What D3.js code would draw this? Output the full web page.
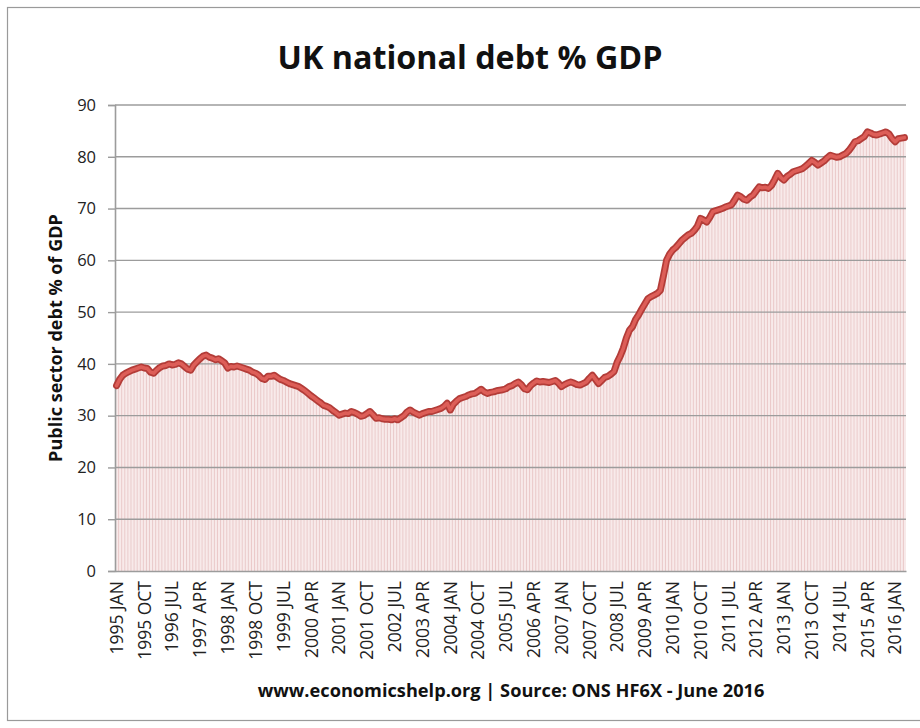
<!DOCTYPE html>
<html><head><meta charset="utf-8">
<script src="https://cdn.jsdelivr.net/npm/d3@7"></script>
<style>body{margin:0;background:#fff}svg{display:block}</style>
</head><body>
<script>
// ---- data ----
const monthNames = ["JAN","FEB","MAR","APR","MAY","JUN","JUL","AUG","SEP","OCT","NOV","DEC"];
const startYear = 1995;
// Public sector net debt % GDP, monthly from 1995 JAN to 2016 APR
const debt = [
 35.8,37.0,37.8,38.2,38.5,38.8,39.0,39.2,39.4,39.2,39.1,38.4, // 1995
 38.2,38.8,39.3,39.6,39.7,40.0,39.8,39.9,40.2,40.0,39.5,39.0, // 1996
 38.8,39.8,40.4,41.0,41.5,41.7,41.3,41.1,40.8,41.0,40.6,40.2, // 1997
 39.2,39.5,39.4,39.6,39.4,39.2,39.0,38.8,38.4,38.2,37.8,37.2, // 1998
 37.0,37.6,37.6,37.8,37.4,37.0,36.8,36.5,36.2,36.0,35.8,35.6, // 1999
 35.2,34.8,34.3,33.8,33.4,32.9,32.5,32.0,31.8,31.5,31.0,30.6, // 2000
 30.1,30.3,30.5,30.4,30.8,30.6,30.3,29.9,30.0,30.4,30.8,30.2, // 2001
 29.5,29.6,29.4,29.3,29.3,29.2,29.4,29.2,29.6,30.0,30.7,31.1, // 2002
 30.7,30.4,30.1,30.4,30.6,30.8,30.8,31.0,31.2,31.4,31.8,32.4, // 2003
 31.1,32.2,32.8,33.3,33.5,33.7,34.0,34.2,34.3,34.7,35.1,34.6, // 2004
 34.3,34.5,34.6,34.8,34.9,35.0,35.2,35.6,35.8,36.2,36.5,36.0, // 2005
 35.2,35.0,35.8,36.3,36.7,36.5,36.6,36.5,36.4,36.6,36.8,36.3, // 2006
 35.6,36.0,36.3,36.5,36.3,36.0,35.9,36.2,36.5,37.2,37.8,37.0, // 2007
 36.2,36.8,37.4,37.6,38.0,38.5,40.3,41.5,43.0,45.0,46.5,47.2, // 2008
 48.6,49.5,50.6,51.6,52.6,53.0,53.3,53.6,54.2,57.0,60.0,61.2, // 2009
 62.0,62.5,63.2,63.9,64.4,64.9,65.2,65.8,66.6,68.1,67.8,67.4, // 2010
 68.3,69.4,69.6,69.8,70.0,70.3,70.5,70.7,71.6,72.6,72.3,71.8, // 2011
 71.6,72.2,72.6,73.4,74.2,74.0,74.1,73.9,74.5,75.6,76.8,76.0, // 2012
 75.5,76.2,76.6,77.1,77.3,77.5,77.7,78.2,78.7,79.3,78.9,78.4, // 2013
 78.8,79.2,79.8,80.3,80.1,79.9,80.0,80.3,80.6,81.2,82.0,82.9, // 2014
 83.1,83.5,83.9,84.8,84.6,84.3,84.2,84.4,84.6,84.8,84.4,83.5, // 2015
 82.9,83.5,83.6,83.7                                          // 2016
];
const yTicks = [0,10,20,30,40,50,60,70,80,90];
const xTickLabels = ["1995 JAN","1995 OCT","1996 JUL","1997 APR","1998 JAN","1998 OCT","1999 JUL",
 "2000 APR","2001 JAN","2001 OCT","2002 JUL","2003 APR","2004 JAN","2004 OCT","2005 JUL","2006 APR",
 "2007 JAN","2007 OCT","2008 JUL","2009 APR","2010 JAN","2010 OCT","2011 JUL","2012 APR","2013 JAN",
 "2013 OCT","2014 JUL","2015 APR","2016 JAN"];
const titleText = "UK national debt % GDP";
const yTitleText = "Public sector debt % of GDP";
const footerText = "www.economicshelp.org | Source: ONS HF6X - June 2016";

const categories = debt.map((d,i)=> (startYear + Math.floor(i/12)) + " " + monthNames[i%12]);

// ---- layout ----
const W=920, H=728;
const L=115, R=906, T=105, B=571;
const font = "'Open Sans', Lato, sans-serif";

const svg = d3.select("body").append("svg").attr("width",W).attr("height",H);
svg.append("rect").attr("x",0).attr("y",0).attr("width",W).attr("height",H).attr("fill","#fff");
// outer frame
svg.append("rect").attr("x",7.5).attr("y",7.5).attr("width",W).attr("height",713)
  .attr("fill","none").attr("stroke","#9a9a9a").attr("stroke-width",1.2);

const x = d3.scaleBand().domain(categories).range([L,R]).padding(0);
const y = d3.scaleLinear().domain([0,90]).range([B,T]);
const bw = x.bandwidth();

// area-like columns
const cols = svg.append("g");
cols.selectAll("rect").data(debt).join("rect")
  .attr("x",(d,i)=>x(categories[i]))
  .attr("y",d=>y(d))
  .attr("width",bw)
  .attr("height",d=>B-y(d))
  .attr("fill","#f8eaea");
cols.selectAll("line").data(debt).join("line")
  .attr("x1",(d,i)=>x(categories[i])+0.5).attr("x2",(d,i)=>x(categories[i])+0.5)
  .attr("y1",d=>y(d)).attr("y2",B)
  .attr("stroke","#e6c0c0").attr("stroke-width",0.8);

// gridlines
svg.append("g").selectAll("line").data(yTicks.filter(t=>t>0)).join("line")
  .attr("x1",L).attr("x2",R).attr("y1",d=>y(d)).attr("y2",d=>y(d))
  .attr("stroke","#9c9c9c").attr("stroke-width",1.4);

// y axis
const yAxis = svg.append("g").attr("transform",`translate(${L},0)`)
  .call(d3.axisLeft(y).tickValues(yTicks).tickSize(7).tickPadding(12));
yAxis.select(".domain").attr("stroke","#9c9c9c").attr("stroke-width",1.6);
yAxis.selectAll(".tick line").attr("stroke","#9c9c9c").attr("stroke-width",1.4);
yAxis.selectAll("text").attr("font-family",font).attr("font-size",16.5).attr("fill","#222");

// x axis
const xAxis = svg.append("g").attr("transform",`translate(0,${B})`)
  .call(d3.axisBottom(x).tickValues(xTickLabels).tickSize(0).tickPadding(0));
xAxis.select(".domain").attr("stroke","#9c9c9c").attr("stroke-width",1.6);
xAxis.selectAll("text")
  .attr("font-family",font).attr("font-size",17.5).attr("fill","#222")
  .attr("text-anchor","end")
  .attr("transform","rotate(-90)")
  .attr("x",-10).attr("y",0).attr("dy","0.36em");

// line
const line = d3.line().x((d,i)=>x(categories[i])+bw/2).y(d=>y(d)).curve(d3.curveLinear);
svg.append("path").datum(debt).attr("d",line).attr("fill","none")
  .attr("stroke","#b33c38").attr("stroke-width",7).attr("stroke-linejoin","round").attr("stroke-linecap","round");
svg.append("path").datum(debt).attr("d",line).attr("fill","none")
  .attr("stroke","#dd5e58").attr("stroke-width",3.5).attr("stroke-linejoin","round").attr("stroke-linecap","round");

// fit text to a target width
function fitText(sel, target, base){
  sel.attr("font-size",base);
  const w = sel.node().getComputedTextLength();
  sel.attr("font-size", base*target/w);
}
const title = svg.append("text").attr("x",470).attr("y",69).attr("text-anchor","middle")
  .attr("font-family",font).attr("font-weight","bold").attr("fill","#111").text(titleText);
fitText(title,385,30);

const yTitle = svg.append("text").attr("transform","translate(62,338) rotate(-90)")
  .attr("text-anchor","middle").attr("font-family",font).attr("font-weight","bold").attr("fill","#111")
  .text(yTitleText);
fitText(yTitle,248,15);

const footer = svg.append("text").attr("x",511).attr("y",697).attr("text-anchor","middle")
  .attr("font-family",font).attr("font-weight","bold").attr("fill","#111").text(footerText);
fitText(footer,507,15);
</script>
</body></html>
